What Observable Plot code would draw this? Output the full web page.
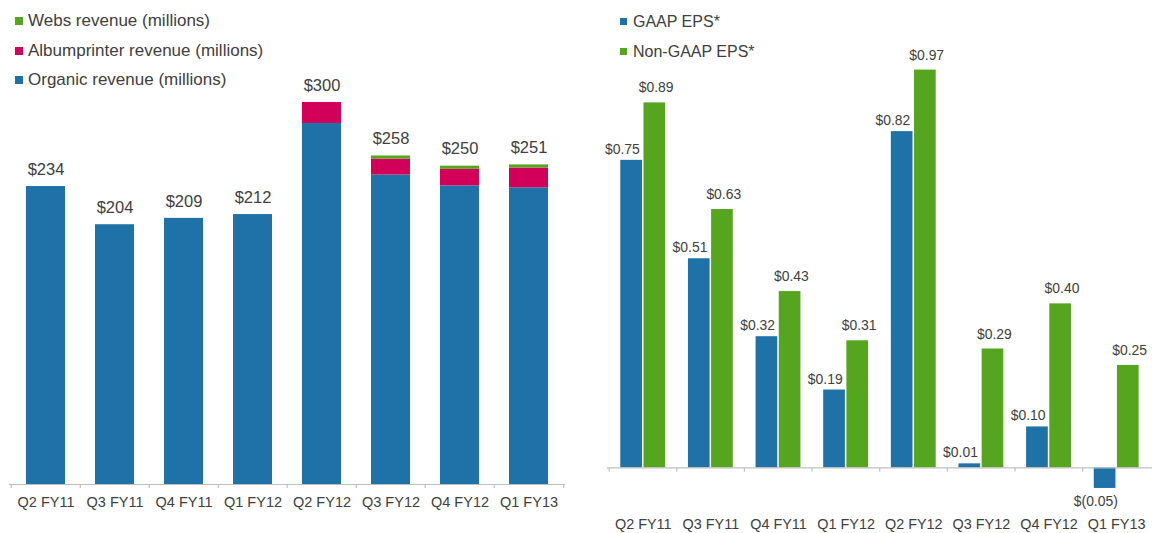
<!DOCTYPE html>
<html><head><meta charset="utf-8">
<script src="https://cdn.jsdelivr.net/npm/d3@7"></script>
<script src="https://cdn.jsdelivr.net/npm/@observablehq/plot@0.6"></script>
<style>
body{margin:0;background:#fff;font-family:"Liberation Sans",Arial,sans-serif;}
#wrap{position:relative;width:1152px;height:533px;overflow:hidden;background:#fff;}
#left{position:absolute;left:0;top:0;}
#right{position:absolute;left:590px;top:0;}
.item{position:absolute;display:flex;align-items:center;white-space:nowrap;color:#404040;}
.sw{display:inline-block;}
</style></head><body>
<div id="wrap"><div id="left"></div><div id="right"></div><div id="legL"></div><div id="legR"></div></div>
<script>
// ---- data ----
const quarters = ["Q2 FY11","Q3 FY11","Q4 FY11","Q1 FY12","Q2 FY12","Q3 FY12","Q4 FY12","Q1 FY13"];
const organic = [234, 204, 209, 212, 283.5, 243, 234.5, 233];
const albumprinter = [0, 0, 0, 0, 16.5, 12.5, 13, 15.5];
const webs = [0, 0, 0, 0, 0, 2.5, 2.5, 2.5];
const revenueLabels = ["$234","$204","$209","$212","$300","$258","$250","$251"];
const revenueSeries = ["Webs revenue (millions)","Albumprinter revenue (millions)","Organic revenue (millions)"];
const revenueColors = ["#56A51F","#D3005A","#1F72A7"];

const gaap = [0.75, 0.51, 0.32, 0.19, 0.82, 0.01, 0.10, -0.05];
const nonGaap = [0.89, 0.63, 0.43, 0.31, 0.97, 0.29, 0.40, 0.25];
const gaapLabels = ["$0.75","$0.51","$0.32","$0.19","$0.82","$0.01","$0.10","$(0.05)"];
const nonGaapLabels = ["$0.89","$0.63","$0.43","$0.31","$0.97","$0.29","$0.40","$0.25"];
const epsSeries = ["GAAP EPS*","Non-GAAP EPS*"];
const epsColors = ["#1F72A7","#56A51F"];

const FONT = "Liberation Sans, Arial, sans-serif";
const TXT = "#404040";
const AX = "#bfbfbf";

// ---- left: stacked revenue ----
const revRows = [];
quarters.forEach((q, i) => {
  revRows.push({q, s: revenueSeries[2], v: organic[i]});
  revRows.push({q, s: revenueSeries[1], v: albumprinter[i]});
  revRows.push({q, s: revenueSeries[0], v: webs[i]});
});
const totals = quarters.map((q, i) => organic[i] + albumprinter[i] + webs[i]);
const lStep = (590 - 9 - 25) / quarters.length;

const left = Plot.plot({
  width: 590, height: 533,
  marginLeft: 9, marginRight: 25, marginTop: 102, marginBottom: 49,
  style: {fontFamily: FONT, color: TXT, background: "transparent", overflow: "visible"},
  x: {domain: quarters, paddingInner: 0.44, paddingOuter: 0.22, label: null},
  y: {domain: [0, 300], axis: null},
  color: {domain: revenueSeries, range: revenueColors},
  marks: [
    Plot.barY(revRows, {x: "q", y: "v", fill: "s"}),
    Plot.ruleY([0], {stroke: AX, strokeWidth: 1.2}),
    Plot.axisX({tickSize: 4, tickFormat: () => "", dx: -lStep / 2, stroke: AX, strokeWidth: 1.2, label: null}),
    Plot.axisX([quarters[quarters.length - 1]], {tickSize: 4, tickFormat: () => "", dx: lStep / 2, stroke: AX, strokeWidth: 1.2, label: null}),
    Plot.axisX({tickSize: 0, tickPadding: 12, fontSize: 14.5, fill: TXT, label: null}),
    Plot.text(quarters, {x: d => d, y: (d, i) => totals[i], text: (d, i) => revenueLabels[i], dy: -17, fontSize: 16.5, fill: TXT})
  ]
});
document.getElementById("left").appendChild(left);

// ---- right: grouped EPS ----
const rStep = (565 - 17) / quarters.length;
const inNear = rStep / 2 - 22.8;
const inFar = rStep / 2 + 0.5;
const pos = quarters.filter((q, i) => gaap[i] >= 0);
const neg = quarters.filter((q, i) => gaap[i] < 0);
const gi = q => quarters.indexOf(q);

const right = Plot.plot({
  width: 565, height: 533,
  marginLeft: 17, marginRight: 0, marginTop: 57.6, marginBottom: 28,
  style: {fontFamily: FONT, color: TXT, background: "transparent", overflow: "visible"},
  x: {domain: quarters, padding: 0, label: null},
  y: {domain: [-0.085, 1.0], axis: null},
  marks: [
    Plot.barY(quarters, {x: d => d, y: (d, i) => gaap[i], fill: epsColors[0], insetLeft: inNear, insetRight: inFar}),
    Plot.barY(quarters, {x: d => d, y: (d, i) => nonGaap[i], fill: epsColors[1], insetLeft: inFar, insetRight: inNear}),
    Plot.ruleY([0], {stroke: AX, strokeWidth: 1.2}),
    Plot.ruleX(quarters, {x: d => d, y1: 0, y2: -0.01, dx: -rStep / 2, stroke: AX, strokeWidth: 1.2}),
    Plot.axisX({tickSize: 0, tickPadding: 16.5, fontSize: 14.5, fill: TXT, label: null}),
    Plot.text(pos, {x: d => d, y: d => gaap[gi(d)], text: d => gaapLabels[gi(d)], dx: -21, dy: -11, fontSize: 14, fill: TXT}),
    Plot.text(neg, {x: d => d, y: d => gaap[gi(d)], text: d => gaapLabels[gi(d)], dx: -21, dy: 13, fontSize: 14, fill: TXT}),
    Plot.text(quarters, {x: d => d, y: (d, i) => nonGaap[i], text: (d, i) => nonGaapLabels[i], dx: 13, dy: -15, fontSize: 14, fill: TXT})
  ]
});
document.getElementById("right").appendChild(right);

// ---- legends ----
function legend(el, names, colors, opts) {
  names.forEach((n, i) => {
    const d = document.createElement("div");
    d.className = "item";
    d.style.left = opts.left + "px";
    d.style.top = (opts.top + i * opts.gap) + "px";
    d.style.height = opts.lh + "px";
    d.style.fontSize = opts.fs + "px";
    const s = document.createElement("span");
    s.className = "sw";
    s.style.width = opts.sq + "px";
    s.style.height = opts.sq + "px";
    s.style.background = colors[i];
    s.style.marginRight = opts.sp + "px";
    const t = document.createElement("span");
    t.textContent = n;
    d.appendChild(s); d.appendChild(t);
    el.appendChild(d);
  });
}
legend(document.getElementById("legL"), revenueSeries, revenueColors, {left: 15, top: 11, gap: 29.5, lh: 20, fs: 17, sq: 8, sp: 5});
legend(document.getElementById("legR"), epsSeries, epsColors, {left: 620, top: 11.5, gap: 30, lh: 20, fs: 16, sq: 7, sp: 6});
</script>
</body></html>
